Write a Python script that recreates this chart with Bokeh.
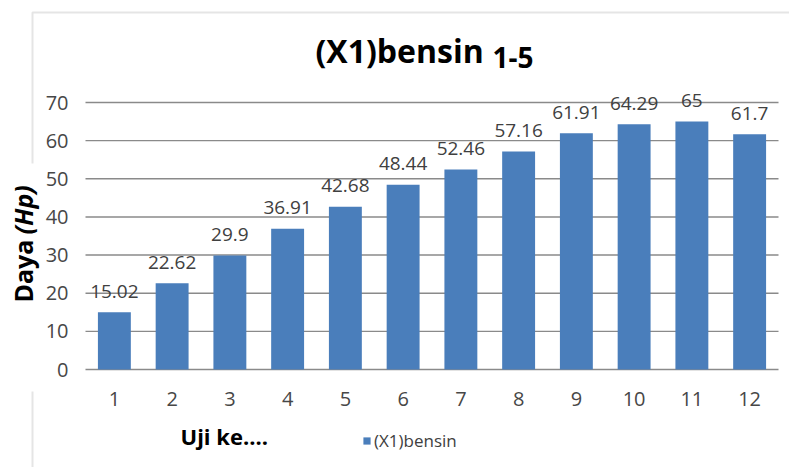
import math

from bokeh.core.properties import value
from bokeh.embed import file_html
from bokeh.models import (BoxAnnotation, ColumnDataSource, Label, LabelSet,
                          Legend, LegendItem, Range1d)
from bokeh.plotting import figure
from bokeh.resources import INLINE

# ---- data -----------------------------------------------------------------
uji = [1, 2, 3, 4, 5, 6, 7, 8, 9, 10, 11, 12]
daya = [15.02, 22.62, 29.9, 36.91, 42.68, 48.44, 52.46, 57.16, 61.91, 64.29, 65, 61.7]
y_ticks = [0, 10, 20, 30, 40, 50, 60, 70]
series_name = "(X1)bensin"
title_main = "(X1)bensin"
title_sub = "1-5"
x_title = "Uji ke...."
y_title_main = "Daya "
y_title_unit = "(Hp)"

# ---- layout ---------------------------------------------------------------
W, H = 789, 467
LEFT, RIGHT, TOP, BOTTOM = 85, 778, 102, 369   # plot area on the canvas (px)
FONT = "Open Sans"
BAR = "#4a7ebb"
GRID = "#8a8a8a"
TXT = "#474747"

# The frame spans the whole canvas so titles, legend and border are not
# clipped; the ranges are chosen so the plot area lands at LEFT..RIGHT,
# TOP..BOTTOM.
x_lo, x_hi = uji[0] - 0.5, uji[-1] + 0.5
y_lo, y_hi = y_ticks[0], y_ticks[-1]
ux = (RIGHT - LEFT) / (x_hi - x_lo)          # px per category
uy = (BOTTOM - TOP) / (y_hi - y_lo)          # px per unit of power
X0 = x_lo - LEFT / ux
Y0 = y_lo - (H - BOTTOM) / uy


def sy(y):
    """canvas y (top-down) -> screen y measured up from the bottom edge"""
    return H - y


p = figure(width=W, height=H, output_backend="svg", toolbar_location=None,
           x_range=Range1d(X0, X0 + W / ux), y_range=Range1d(Y0, Y0 + H / uy),
           x_axis_location=None, y_axis_location=None, min_border=0)
p.outline_line_color = None
p.background_fill_color = "white"
p.border_fill_color = "white"
p.xgrid.visible = False
p.ygrid.visible = False

# horizontal gridlines (the one at 0 is the category axis line)
p.segment(x0=x_lo, x1=x_hi, y0=y_ticks, y1=y_ticks,
          line_color=GRID, line_width=1.4, level="underlay")

src = ColumnDataSource(dict(x=uji, y=daya, label=[f"{v:g}" for v in daya]))
bars = p.vbar(x="x", top="y", width=0.57, source=src,
              fill_color=BAR, line_color=None)

# value labels above the bars
p.add_layout(LabelSet(x="x", y="y", text="label", source=src,
                      y_offset=21, text_align="center", text_baseline="middle",
                      text_font=value(FONT), text_font_size="19px",
                      text_color="#404040"))

# tick labels
ysrc = ColumnDataSource(dict(y=y_ticks, t=[str(t) for t in y_ticks]))
p.add_layout(LabelSet(x=LEFT - 17, x_units="screen", y="y", text="t", source=ysrc,
                      text_align="right", text_baseline="middle",
                      text_font=value(FONT), text_font_size="20px",
                      text_color=TXT))
xsrc = ColumnDataSource(dict(x=uji, t=[str(u) for u in uji]))
p.add_layout(LabelSet(x="x", y=sy(398), y_units="screen", text="t", source=xsrc,
                      text_align="center", text_baseline="middle",
                      text_font=value(FONT), text_font_size="20px",
                      text_color=TXT))

# chart-area border (open at right/bottom), broken behind the y title
p.add_layout(BoxAnnotation(left=32, right=W + 50, top=sy(12), bottom=-50,
                           left_units="screen", right_units="screen",
                           top_units="screen", bottom_units="screen",
                           fill_alpha=0, line_color="#a8a8a8", line_width=2))
p.add_layout(BoxAnnotation(left=29, right=36, top=sy(163), bottom=sy(391),
                           left_units="screen", right_units="screen",
                           top_units="screen", bottom_units="screen",
                           fill_color="white", fill_alpha=1, line_color=None))


def text_label(txt, x, y, size, style="bold", angle=0.0):
    return Label(x=x, y=sy(y), x_units="screen", y_units="screen", text=txt,
                 text_font=FONT, text_font_size=size, text_font_style=style,
                 text_color="black", angle=angle,
                 text_align="left", text_baseline="middle")


# title
p.add_layout(text_label(title_main, 315, 50, "32px"))
p.add_layout(text_label(title_sub, 492, 57, "28px"))

# axis titles
p.add_layout(text_label(x_title, 180, 435, "22px"))
p.add_layout(text_label(y_title_main, 22, 302, "25px", angle=math.pi / 2))
p.add_layout(text_label(y_title_unit, 22, 234, "25px", style="bold italic",
                        angle=math.pi / 2))

# legend below the plot area
legend = Legend(items=[LegendItem(label=series_name, renderers=[bars])],
                location=(362, sy(452)), orientation="horizontal",
                padding=0, margin=0, spacing=0, label_standoff=3,
                glyph_width=9, glyph_height=9, label_height=9,
                border_line_color=None, background_fill_alpha=0,
                label_text_font=FONT, label_text_font_size="17px",
                label_text_color="#404040")
p.add_layout(legend)

open("out.html", "w").write(file_html(p, INLINE))
